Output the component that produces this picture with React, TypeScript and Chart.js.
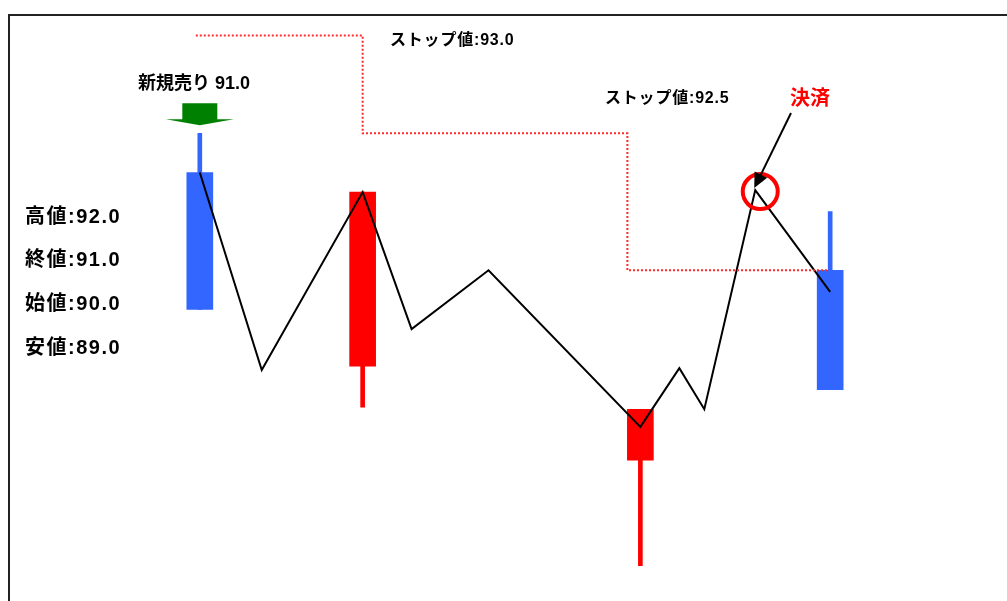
import React, { useEffect, useRef } from "react";
import { Chart, registerables } from "chart.js";

Chart.register(...registerables);

// Candles: x position (time units) and OHLC prices
const candleX = [19.2, 35.5, 63.3, 82.3];
const candleOpen = [92.3, 91.31, 90.83, 91.8];
const candleClose = [91.6, 92.2, 91.09, 91.19];
const candleHigh = [92.5, 92.2, 91.09, 92.1];
const candleLow = [91.6, 91.1, 90.29, 91.19];

// Price path (black line)
const pathX = [19.2, 25.4, 35.5, 40.4, 48.1, 63.3, 67.2, 69.7, 74.8, 82.3];
const pathY = [92.3, 91.29, 92.2, 91.5, 91.8, 91.0, 91.3, 91.09, 92.21, 91.69];

// Trailing stop (red dotted steps)
const stopX = [18.8, 35.5, 62.0, 82.1];
const stopY = [93.0, 92.5, 91.8, 91.8];

// Texts
const entryLabel = "新規売り 91.0";
const stopLabels = ["ストップ値:93.0", "ストップ値:92.5"];
const exitLabel = "決済";
const ohlcLabels = ["高値:92.0", "終値:91.0", "始値:90.0", "安値:89.0"];

const X_MIN = 0;
const X_MAX = 100;
const Y_MIN = 90.11;
const Y_MAX = 93.11;

const BLUE = "#3366ff";
const RED = "#ff0000";
const FONT = '"Liberation Sans", "Noto Sans CJK JP", sans-serif';

const overlay = {
  id: "overlay",
  beforeDraw(chart: any) {
    const { ctx, chartArea } = chart;
    ctx.save();
    ctx.fillStyle = "#ffffff";
    ctx.fillRect(0, 0, chart.width, chart.height);
    ctx.strokeStyle = "#222222";
    ctx.lineWidth = 2;
    ctx.strokeRect(chartArea.left + 1, chartArea.top + 1, chart.width + 100, chart.height + 100);
    ctx.restore();
  },
  afterDraw(chart: any) {
    const { ctx } = chart;
    const xs = chart.scales.x;
    const ys = chart.scales.y;
    ctx.save();

    // green entry arrow above first candle
    const cx = xs.getPixelForValue(candleX[0]);
    const tip = ys.getPixelForValue(candleHigh[0]) - 8;
    ctx.fillStyle = "#008000";
    ctx.beginPath();
    ctx.moveTo(cx - 17.5, tip - 22);
    ctx.lineTo(cx + 17.5, tip - 22);
    ctx.lineTo(cx + 17.5, tip - 6);
    ctx.lineTo(cx + 34, tip - 6);
    ctx.lineTo(cx, tip);
    ctx.lineTo(cx - 34, tip - 6);
    ctx.lineTo(cx - 17.5, tip - 6);
    ctx.closePath();
    ctx.fill();

    // circle at exit point
    const px = xs.getPixelForValue(pathX[8]);
    const py = ys.getPixelForValue(pathY[8]);
    ctx.strokeStyle = RED;
    ctx.lineWidth = 4;
    ctx.beginPath();
    ctx.arc(px + 5, py + 1.5, 17.5, 0, Math.PI * 2);
    ctx.stroke();

    // exit arrow
    const sx = 791;
    const sy = 113;
    const tx = px - 1;
    const ty = py - 2;
    const dx = tx - sx;
    const dy = ty - sy;
    const len = Math.hypot(dx, dy);
    const ux = dx / len;
    const uy = dy / len;
    const hl = 15;
    const hw = 7;
    ctx.strokeStyle = "#000";
    ctx.lineWidth = 2;
    ctx.beginPath();
    ctx.moveTo(sx, sy);
    ctx.lineTo(tx - ux * hl * 0.8, ty - uy * hl * 0.8);
    ctx.stroke();
    ctx.fillStyle = "#000";
    ctx.beginPath();
    ctx.moveTo(tx, ty);
    ctx.lineTo(tx - ux * hl - uy * hw, ty - uy * hl + ux * hw);
    ctx.lineTo(tx - ux * hl + uy * hw, ty - uy * hl - ux * hw);
    ctx.closePath();
    ctx.fill();

    // texts
    ctx.textBaseline = "middle";
    ctx.fillStyle = "#000";
    ctx.textAlign = "center";
    ctx.font = `bold 18px ${FONT}`;
    ctx.fillText(entryLabel, 194, 84);

    ctx.textAlign = "left";
    ctx.font = `bold 16px ${FONT}`;
    (ctx as any).letterSpacing = "0.8px";
    ctx.fillText(stopLabels[0], 390, 41);
    ctx.fillText(stopLabels[1], 605, 99);

    ctx.font = `bold 20px ${FONT}`;
    (ctx as any).letterSpacing = "1.5px";
    const ly = [217, 260, 304, 348];
    ohlcLabels.forEach((t, i) => ctx.fillText(t, 25, ly[i]));
    (ctx as any).letterSpacing = "0px";

    ctx.textAlign = "center";
    ctx.fillStyle = RED;
    ctx.font = `bold 20px ${FONT}`;
    ctx.fillText(exitLabel, 810, 99);

    ctx.restore();
  },
};

export default function App() {
  const ref = useRef<HTMLCanvasElement>(null);

  useEffect(() => {
    if (!ref.current) return;
    const colors = candleX.map((_, i) => (candleClose[i] < candleOpen[i] ? BLUE : RED));
    const chart = new Chart(ref.current, {
      type: "bar",
      data: {
        datasets: [
          {
            type: "line",
            data: stopX.map((x, i) => ({ x, y: stopY[i] })),
            borderColor: "#ff2a2a",
            borderWidth: 2,
            borderDash: [2, 2],
            stepped: "before",
            pointRadius: 0,
            fill: false,
            order: 0,
          } as any,
          {
            type: "line",
            data: pathX.map((x, i) => ({ x, y: pathY[i] })),
            borderColor: "#000000",
            borderWidth: 2,
            tension: 0,
            pointRadius: 0,
            fill: false,
            order: 0,
          } as any,
          {
            type: "bar",
            data: candleX.map((x, i) => ({ x, y: [candleLow[i], candleHigh[i]] })),
            backgroundColor: colors,
            barThickness: 4,
            grouped: false,
            order: 2,
          } as any,
          {
            type: "bar",
            data: candleX.map((x, i) => ({ x, y: [candleOpen[i], candleClose[i]] })),
            backgroundColor: colors,
            barThickness: 26,
            grouped: false,
            order: 1,
          } as any,
        ],
      },
      options: {
        animation: false,
        responsive: true,
        maintainAspectRatio: false,
        layout: { padding: { left: 8, top: 14, right: 0, bottom: 0 } },
        plugins: { legend: { display: false }, tooltip: { enabled: false } },
        scales: {
          x: { type: "linear", min: X_MIN, max: X_MAX, display: false, offset: false },
          y: { type: "linear", min: Y_MIN, max: Y_MAX, display: false },
        },
      } as any,
      plugins: [overlay],
    });
    return () => chart.destroy();
  }, []);

  return (
    <div style={{ position: "fixed", left: 0, top: 0, width: "100vw", height: "100vh" }}>
      <canvas ref={ref} />
    </div>
  );
}
